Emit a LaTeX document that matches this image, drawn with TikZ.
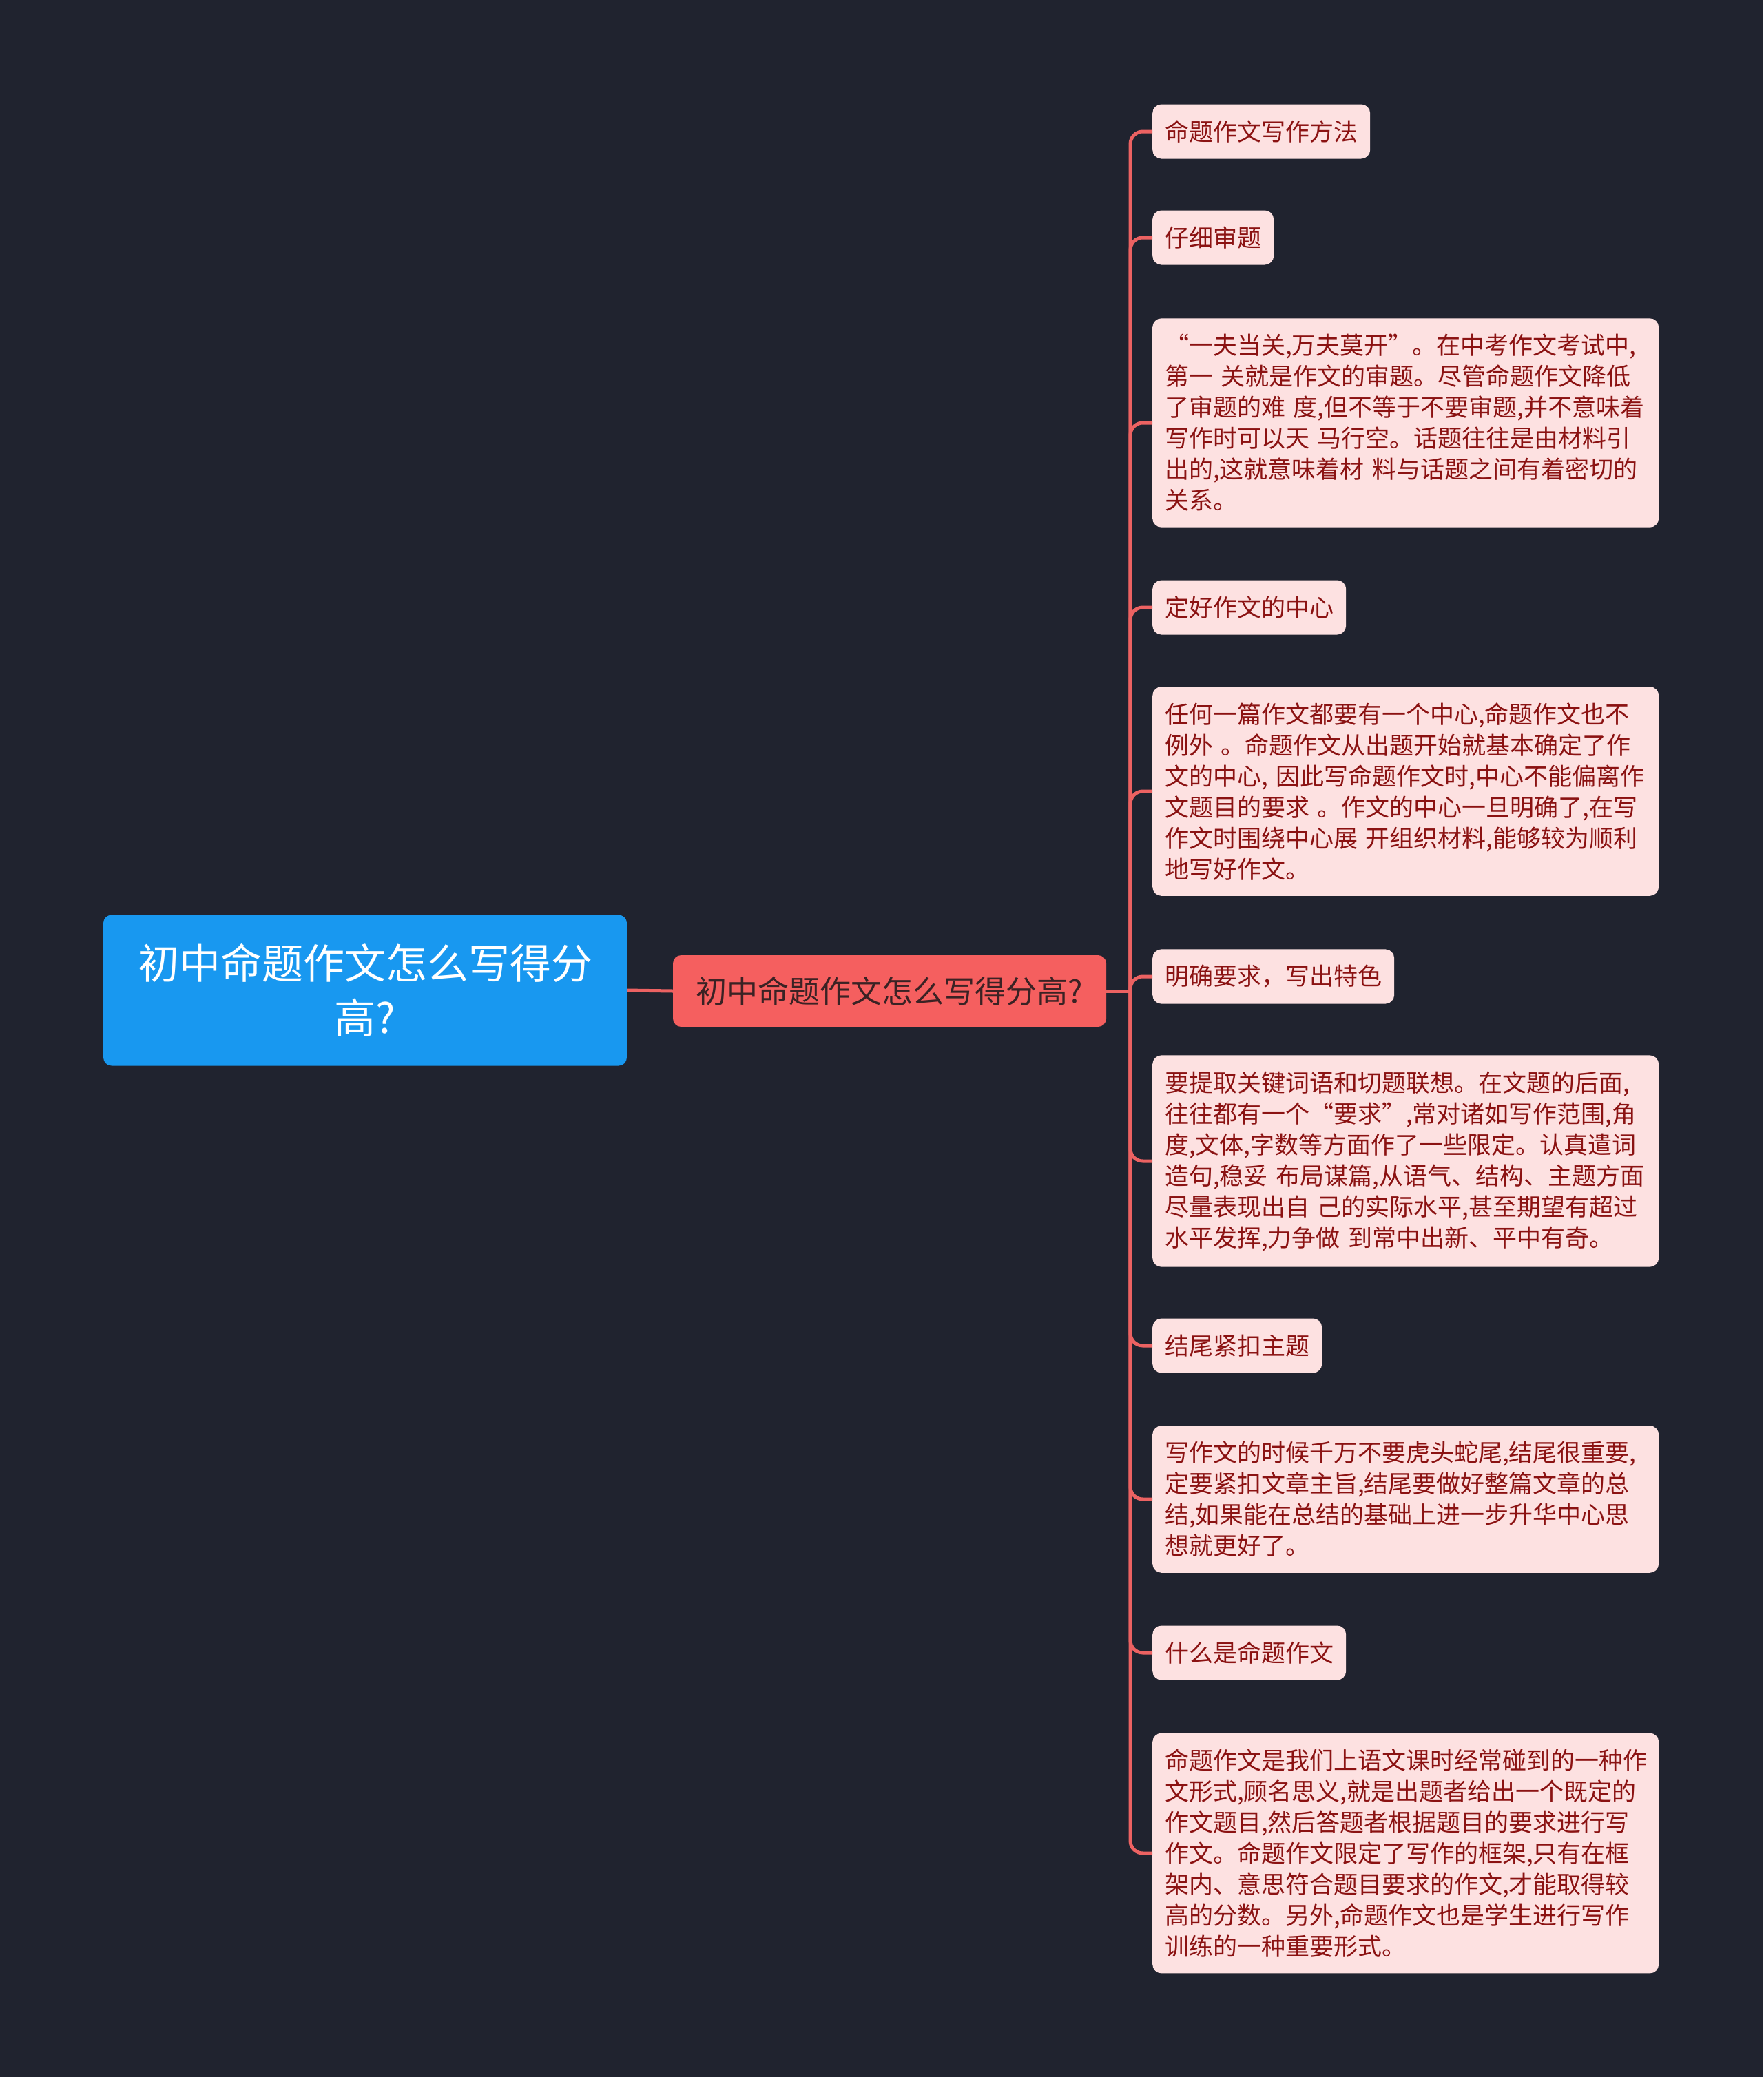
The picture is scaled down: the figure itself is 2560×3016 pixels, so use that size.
\documentclass[tikz,border=0pt]{standalone}
\usepackage{fontspec}
\newfontfamily\cjk{Noto Sans CJK SC}

\definecolor{bgNavy}{HTML}{20232F}
\definecolor{rootBlue}{HTML}{1898F0}
\definecolor{mainRed}{HTML}{F55F5F}
\definecolor{mainText}{HTML}{3A2224}
\definecolor{leafPink}{HTML}{FDE1E1}
\definecolor{leafText}{HTML}{8B1212}
\definecolor{linkRed}{HTML}{EC6262}

\tikzset{
    root_box/.style = {rectangle, rounded corners=12pt,
                       fill=rootBlue, text=white,
                       font=\cjk\fontsize{60}{79}\selectfont, align=center,
                       minimum width=760pt, minimum height=219pt, inner sep=0pt},
    main_box/.style = {rectangle, rounded corners=12pt,
                       fill=mainRed, text=mainText,
                       font=\cjk\fontsize{45}{56}\selectfont,
                       minimum width=629pt, minimum height=104pt, inner sep=0pt},
    leaf_box/.style = {rectangle, rounded corners=13pt,
                       fill=leafPink, text=leafText,
                       font=\cjk\fontsize{35}{45}\selectfont,
                       inner xsep=18pt, inner ysep=23pt,
                       minimum height=79pt, anchor=west},
    para_box/.style = {leaf_box, text width=699pt, align=left},
    link/.style     = {draw=linkRed, line width=5pt, rounded corners=18pt}
}

\begin{document}
\begin{tikzpicture}[x=1pt, y=-1pt]

    % page and background
    \useasboundingbox (0,0) rectangle (2560,3016);
    \fill[bgNavy] (0,0) rectangle (2560,3016);

    % root and main branch
    \node[root_box] (Root_Topic) at (530,1438) {初中命题作文怎么写得分\\高?};
    \node[main_box] (Main_Branch) at (1291.5,1439) {初中命题作文怎么写得分高?};

    % leaves, all hanging off the same trunk
    \node[leaf_box] (Leaf_Method) at (1673,191) {命题作文写作方法};
    \node[leaf_box] (Leaf_Read) at (1673,345) {仔细审题};
    \node[para_box] (Para_Read) at (1673,614)
        {“一夫当关,万夫莫开”。在中考作文考试中,\\
         第一~关就是作文的审题。尽管命题作文降低\\
         了审题的难~度,但不等于不要审题,并不意味着\\
         写作时可以天~马行空。话题往往是由材料引\\
         出的,这就意味着材~料与话题之间有着密切的\\
         关系。};
    \node[leaf_box] (Leaf_Center) at (1673,882) {定好作文的中心};
    \node[para_box] (Para_Center) at (1673,1149)
        {任何一篇作文都要有一个中心,命题作文也不\\
         例外~。命题作文从出题开始就基本确定了作\\
         文的中心,~因此写命题作文时,中心不能偏离作\\
         文题目的要求~。作文的中心一旦明确了,在写\\
         作文时围绕中心展~开组织材料,能够较为顺利\\
         地写好作文。};
    \node[leaf_box] (Leaf_Demand) at (1673,1418) {明确要求，写出特色};
    \node[para_box] (Para_Demand) at (1673,1686)
        {要提取关键词语和切题联想。在文题的后面,\\
         往往都有一个“要求”,常对诸如写作范围,角\\
         度,文体,字数等方面作了一些限定。认真遣词\\
         造句,稳妥~布局谋篇,从语气、结构、主题方面\\
         尽量表现出自~己的实际水平,甚至期望有超过\\
         水平发挥,力争做~到常中出新、平中有奇。};
    \node[leaf_box] (Leaf_Ending) at (1673,1954) {结尾紧扣主题};
    \node[para_box] (Para_Ending) at (1673,2177)
        {写作文的时候千万不要虎头蛇尾,结尾很重要,\\
         定要紧扣文章主旨,结尾要做好整篇文章的总\\
         结,如果能在总结的基础上进一步升华中心思\\
         想就更好了。};
    \node[leaf_box] (Leaf_What) at (1673,2400) {什么是命题作文};
    \node[para_box] (Para_What) at (1673,2691)
        {命题作文是我们上语文课时经常碰到的一种作\\
         文形式,顾名思义,就是出题者给出一个既定的\\
         作文题目,然后答题者根据题目的要求进行写\\
         作文。命题作文限定了写作的框架,只有在框\\
         架内、意思符合题目要求的作文,才能取得较\\
         高的分数。另外,命题作文也是学生进行写作\\
         训练的一种重要形式。};

    % connectors
    \coordinate (Hub) at (1641,1439);
    \draw[link] (Root_Topic.east) -- (Main_Branch.west);
    \draw[link] (Main_Branch.east) -- (Hub);
    \foreach \leaf in {Leaf_Method, Leaf_Read, Para_Read, Leaf_Center,
                       Para_Center, Leaf_Demand, Para_Demand, Leaf_Ending,
                       Para_Ending, Leaf_What, Para_What}
        \draw[link] (Hub) |- (\leaf.west);

\end{tikzpicture}
\end{document}
